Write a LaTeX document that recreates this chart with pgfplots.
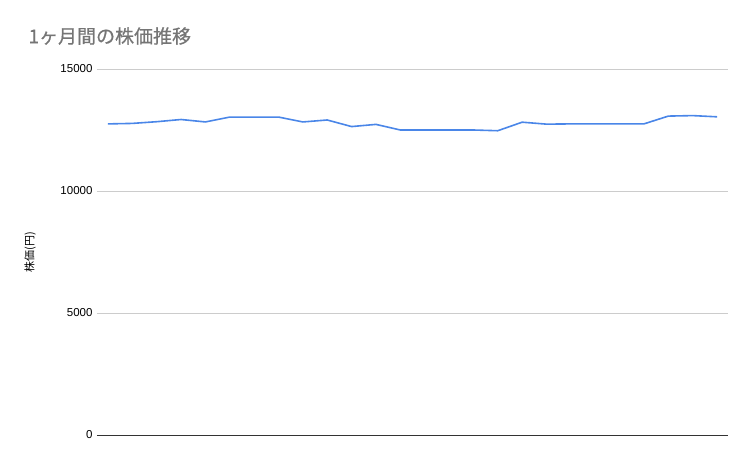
\documentclass[border=0pt]{standalone}
\usepackage{fontspec}
\setmainfont{Liberation Sans}
\newfontfamily\cjk{Noto Sans CJK JP}
\newfontfamily\cjktitle[FakeBold=0.6]{Noto Sans CJK JP}
\usepackage{pgfplots}
\pgfplotsset{compat=1.18}
\definecolor{lineblue}{HTML}{4A86E8}
\definecolor{gridgray}{HTML}{CCCCCC}
\definecolor{titlegray}{HTML}{757575}

\begin{document}
\begin{tikzpicture}
\path[use as bounding box] (-97pt,-31pt) rectangle (656pt,435pt);
\begin{axis}[
    at={(0pt,0pt)}, anchor=south west,
    scale only axis,
    width=631pt, height=366pt,
    xmin=-0.45, xmax=25.45,
    ymin=0, ymax=15000,
    ytick={0,5000,10000,15000},
    xtick=\empty,
    axis x line*=bottom,
    axis y line*=left,
    y axis line style={draw=none},
    ytick style={draw=none},
    x axis line style={color=black!80, line width=0.8pt, -},
    ymajorgrids=true,
    grid style={gridgray, line width=0.6pt},
    yticklabel style={font=\fontsize{11.5}{13}\selectfont, color=black, xshift=-1pt},
    /pgf/number format/assume math mode=true,
    scaled y ticks=false,
    yticklabel={\pgfmathprintnumber[fixed,1000 sep={}]{\tick}},
    ylabel={\cjk 株価(円)},
    ylabel style={font=\fontsize{11}{13}\selectfont, at={(axis description cs:-0.106,0.5)}, anchor=center},
    clip=false,
]
\addplot[lineblue, line width=1.6pt, mark=none] coordinates {
    (0,12750) (1,12770) (2,12840) (3,12930) (4,12830) (5,13030)
    (6,13030) (7,13030) (8,12830) (9,12910) (10,12640) (11,12730)
    (12,12500) (13,12500) (14,12500) (15,12500) (16,12470) (17,12820)
    (18,12740) (19,12750) (20,12750) (21,12750) (22,12750) (23,13070)
    (24,13090) (25,13040)
};
\end{axis}
\node[anchor=west, text=titlegray, font=\cjktitle\fontsize{19}{23}\selectfont] at (-72pt,399pt) {1ヶ月間の株価推移};
\end{tikzpicture}
\end{document}
